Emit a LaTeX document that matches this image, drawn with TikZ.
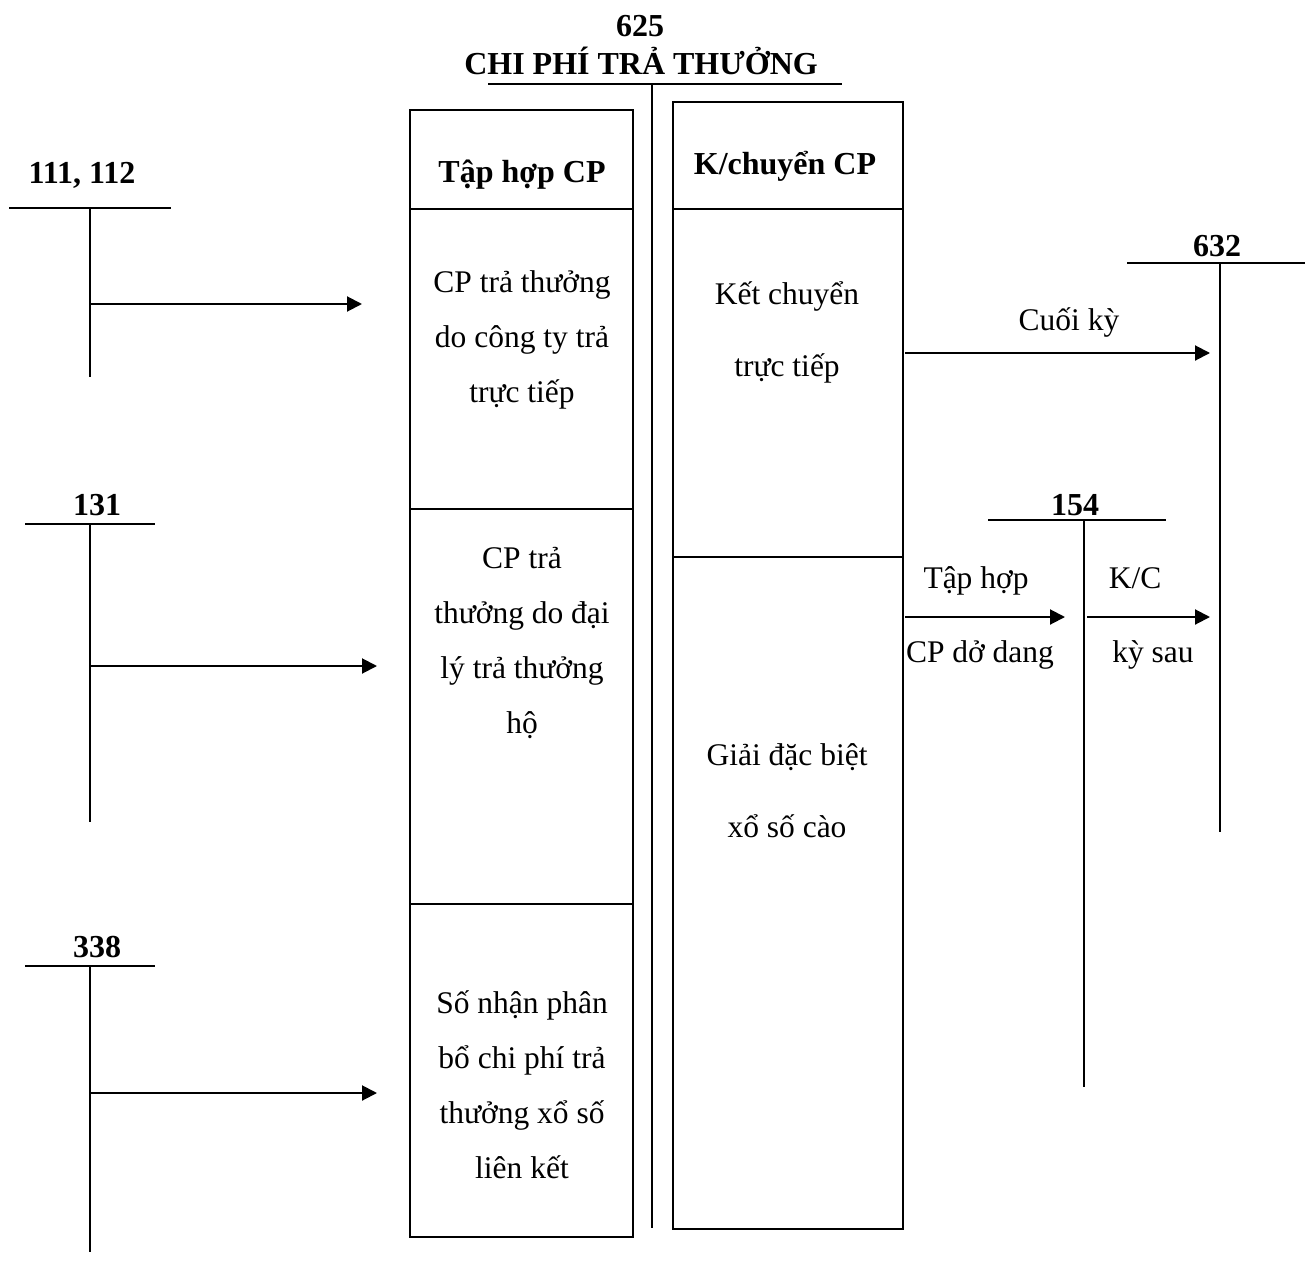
\documentclass[tikz,border=0pt]{standalone}
\usepackage{fontspec}
\setmainfont{Liberation Serif}
\usetikzlibrary{arrows.meta}

\begin{document}
\begin{tikzpicture}[x=1pt, y=-1pt, >={Triangle[length=15pt,width=15pt]},
		every node/.style={inner sep=0pt, align=center, font=\fontsize{31.5}{55}\selectfont},
		acct/.style={anchor=base, font=\fontsize{32}{37}\selectfont\bfseries},
		lbl/.style={anchor=base},
		wide/.style={font=\fontsize{31.5}{72}\selectfont},
		thinline/.style={line width=2pt},
		thickline/.style={line width=2.8pt}]
		\useasboundingbox (0,0) rectangle (1311,1281);
		
		% Title of account 625
		\node[acct] (num) at (640,37) {625};
		\node[acct] (title) at (641,75) {CHI PHÍ TRẢ THƯỞNG};
		\coordinate (tl) at (488,84);
		\coordinate (tr) at (842,84);
		\coordinate (mt) at (652,84);
		\coordinate (mb) at (652,1228);
		\draw[thinline] (tl) -- (tr);
		\draw[thickline] (mt) -- (mb);
		
		% Debit column
		\draw[thickline] (410,110) rectangle (633,1237);
		\draw[thinline] (410,209) -- (633,209);
		\draw[thinline] (410,509) -- (633,509);
		\draw[thinline] (410,904) -- (633,904);
		\node[acct] (no) at (522,183) {Tập hợp CP};
		\node (d1) at (522,340) {CP trả thưởng\\do công ty trả\\trực tiếp};
		\node (d2) at (522,643) {CP trả\\thưởng do đại\\lý trả thưởng\\hộ};
		\node (d3) at (522,1085) {Số nhận phân\\bổ chi phí trả\\thưởng xổ số\\liên kết};
		
		% Credit column
		\draw[thickline] (673,102) rectangle (903,1229);
		\draw[thinline] (673,209) -- (903,209);
		\draw[thinline] (673,557) -- (903,557);
		\node[acct] (co) at (785,175) {K/chuyển CP};
		\node[wide] (c1) at (787,332) {Kết chuyển\\trực tiếp};
		\node[wide] (c2) at (787,791) {Giải đặc biệt\\xổ số cào};
		
		% Account 111, 112
		\node[acct] (a111) at (82,184) {111, 112};
		\coordinate (a111l) at (9,208);
		\coordinate (a111r) at (171,208);
		\coordinate (a111t) at (90,208);
		\coordinate (a111b) at (90,377);
		\coordinate (a111o) at (90,304);
		\coordinate (a111e) at (362,304);
		\draw[thinline] (a111l) -- (a111r);
		\draw[thinline] (a111t) -- (a111b);
		\draw[thinline, ->] (a111o) -- (a111e);
		
		% Account 131
		\node[acct] (a131) at (97,515) {131};
		\coordinate (a131l) at (25,524);
		\coordinate (a131r) at (155,524);
		\coordinate (a131t) at (90,524);
		\coordinate (a131b) at (90,822);
		\coordinate (a131o) at (90,666);
		\coordinate (a131e) at (377,666);
		\draw[thinline] (a131l) -- (a131r);
		\draw[thinline] (a131t) -- (a131b);
		\draw[thinline, ->] (a131o) -- (a131e);
		
		% Account 338
		\node[acct] (a338) at (97,957) {338};
		\coordinate (a338l) at (25,966);
		\coordinate (a338r) at (155,966);
		\coordinate (a338t) at (90,966);
		\coordinate (a338b) at (90,1252);
		\coordinate (a338o) at (90,1093);
		\coordinate (a338e) at (377,1093);
		\draw[thinline] (a338l) -- (a338r);
		\draw[thinline] (a338t) -- (a338b);
		\draw[thinline, ->] (a338o) -- (a338e);
		
		% Account 632
		\node[acct] (a632) at (1217,257) {632};
		\coordinate (a632l) at (1127,263);
		\coordinate (a632r) at (1305,263);
		\coordinate (a632t) at (1220,263);
		\coordinate (a632b) at (1220,832);
		\coordinate (ko) at (905,353);
		\coordinate (ke) at (1210,353);
		\draw[thinline] (a632l) -- (a632r);
		\draw[thinline] (a632t) -- (a632b);
		\draw[thinline, ->] (ko) -- (ke);
		\node[lbl] (cuoi) at (1069,330) {Cuối kỳ};
		
		% Account 154
		\node[acct] (a154) at (1075,515) {154};
		\coordinate (a154l) at (988,520);
		\coordinate (a154r) at (1166,520);
		\coordinate (a154t) at (1084,520);
		\coordinate (a154b) at (1084,1087);
		\coordinate (to) at (905,617);
		\coordinate (te) at (1065,617);
		\coordinate (kco) at (1087,617);
		\coordinate (kce) at (1210,617);
		\draw[thinline] (a154l) -- (a154r);
		\draw[thinline] (a154t) -- (a154b);
		\draw[thinline, ->] (to) -- (te);
		\draw[thinline, ->] (kco) -- (kce);
		\node[lbl] (th1) at (976,588) {Tập hợp};
		\node[lbl] (th2) at (980,662) {CP dở dang};
		\node[lbl] (kc1) at (1135,588) {K/C};
		\node[lbl] (kc2) at (1153,662) {kỳ sau};
		
	\end{tikzpicture}
\end{document}
